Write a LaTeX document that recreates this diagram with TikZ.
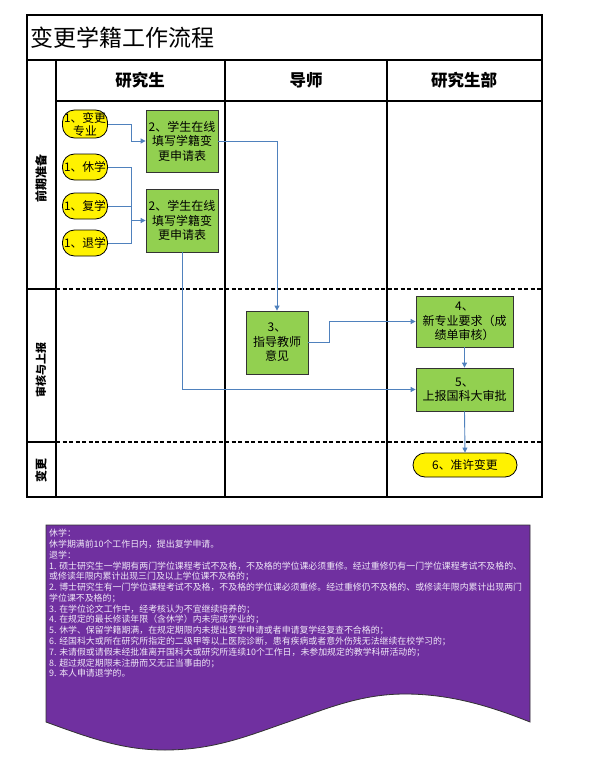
\documentclass[tikz,border=0pt]{standalone}
\usepackage{fontspec}
\setmainfont{Noto Sans CJK SC}
\usetikzlibrary{arrows.meta}
\definecolor{lgreen}{RGB}{146,208,80}
\definecolor{cblue}{RGB}{79,129,189}
\definecolor{npurple}{RGB}{112,48,160}
\definecolor{ntext}{RGB}{240,232,248}
\begin{document}
\begin{tikzpicture}[x=1pt,y=-1pt,
  frame/.style={line width=1.2pt},
  sepline/.style={line width=1.6pt, dash pattern=on 4pt off 2.5pt},
  gbox/.style={draw=black!80, line width=0.8pt, fill=lgreen, inner sep=0pt, align=center, font=\fontsize{12}{14.5}\selectfont},
  ybox/.style={draw=black, line width=0.8pt, fill=yellow, rounded corners=12pt, inner sep=0pt, align=center, font=\fontsize{11.8}{13}\selectfont},
  conn/.style={draw=cblue, line width=0.9pt},
  arr/.style={conn, -{Triangle[width=5pt,length=5pt]}},
  hdr/.style={font=\fontsize{16.5}{18}\selectfont\bfseries},
  rowlab/.style={rotate=90, font=\fontsize{12}{13}\selectfont\bfseries}
]
\useasboundingbox (0,0) rectangle (589,765);
\fill[white] (0,0) rectangle (589,765);

% frame
\draw[frame] (27,15) rectangle (542,497);
\draw[frame] (27,60) -- (542,60);
\draw[frame] (56,101) -- (542,101);
\draw[frame] (56,60) -- (56,497);
\draw[frame] (225,60) -- (225,497);
\draw[frame] (387,60) -- (387,497);
\draw[frame] (27,289) -- (56,289);
\draw[sepline] (56,289) -- (542,289);
\draw[frame] (27,442) -- (56,442);
\draw[sepline] (56,442) -- (542,442);

% title and headers
\node[anchor=west, font=\fontsize{23}{25}\selectfont, inner sep=0pt] (title) at (30,38) {变更学籍工作流程};
\node[hdr] (h1) at (140,80) {研究生};
\node[hdr] (h2) at (306,80) {导师};
\node[hdr] (h3) at (464,80) {研究生部};
\node[rowlab] (r1) at (41,178) {前期准备};
\node[rowlab, font=\fontsize{11}{12}\selectfont\bfseries] (r2) at (41,370) {审核与上报};
\node[rowlab] (r3) at (41,470) {变更};

% nodes
\node[ybox, minimum width=45pt, minimum height=28pt] (n1a) at (85,124) {1、变更\\专业};
\node[ybox, minimum width=45pt, minimum height=26pt] (n1b) at (85,167) {1、休学};
\node[ybox, minimum width=45pt, minimum height=26pt] (n1c) at (85,206) {1、复学};
\node[ybox, minimum width=45pt, minimum height=26pt] (n1d) at (85,243) {1、退学};
\node[gbox, minimum width=72pt, minimum height=62pt] (nA) at (182,141) {2、学生在线\\填写学籍变\\更申请表};
\node[gbox, minimum width=72pt, minimum height=63pt] (nB) at (182,220.5) {2、学生在线\\填写学籍变\\更申请表};
\node[gbox, minimum width=62pt, minimum height=63pt] (n3) at (277,342.5) {3、\\指导教师\\意见};
\node[gbox, minimum width=97pt, minimum height=51pt] (n4) at (464.5,321.5) {4、\\新专业要求（成\\绩单审核）};
\node[gbox, minimum width=97pt, minimum height=43pt] (n5) at (464.5,389.5) {5、\\上报国科大审批};
\node[ybox, minimum width=104pt, minimum height=24pt] (n6) at (465,465) {6、准许变更};

% connectors
\draw[arr] (n1a.east) -- ++(24,0) |- (nA.west);
\draw[conn] (n1b.east) -- ++(24,0) coordinate (j1);
\draw[conn] (n1c.east) -- ++(24,0) coordinate (j3);
\draw[conn] (n1d.east) -- ++(24,0) coordinate (j2);
\draw[conn] (j1) -- (j2);
\draw[arr] (j1 |- nB.west) -- (nB.west);
\draw[arr] (nA.east) -| (n3.north);
\draw[arr] (nB.south) |- (n5.west);
\draw[arr] (n3.east) -- ++(21,0) |- (n4.west);
\draw[arr] (n4.south) -- (n5.north);
\draw[arr] (n5.south) -- (n6.north);

% note
\draw[fill=npurple, draw=black!80, line width=0.8pt] (46,525) -- (46,722) .. controls (95,740) and (125,750) .. (165,750) .. controls (215,750) and (250,735) .. (288,722) .. controls (326,709) and (360,694) .. (405,694) .. controls (450,694) and (490,706) .. (530,722) -- (530,525) -- cycle;
\node[anchor=north west, inner sep=0pt, align=left, text=ntext, font=\fontsize{8.9}{10.77}\selectfont] (note) at (49,529) {休学：\\
休学期满前10个工作日内，提出复学申请。\\
退学：\\
1. 硕士研究生一学期有两门学位课程考试不及格，不及格的学位课必须重修。经过重修仍有一门学位课程考试不及格的、\\
或修读年限内累计出现三门及以上学位课不及格的；\\
2. 博士研究生有一门学位课程考试不及格，不及格的学位课必须重修。经过重修仍不及格的、或修读年限内累计出现两门\\
学位课不及格的；\\
3. 在学位论文工作中，经考核认为不宜继续培养的；\\
4. 在规定的最长修读年限（含休学）内未完成学业的；\\
5. 休学、保留学籍期满，在规定期限内未提出复学申请或者申请复学经复查不合格的；\\
6. 经国科大或所在研究所指定的二级甲等以上医院诊断，患有疾病或者意外伤残无法继续在校学习的；\\
7. 未请假或请假未经批准离开国科大或研究所连续10个工作日，未参加规定的教学科研活动的；\\
8. 超过规定期限未注册而又无正当事由的；\\
9. 本人申请退学的。};
\end{tikzpicture}
\end{document}
